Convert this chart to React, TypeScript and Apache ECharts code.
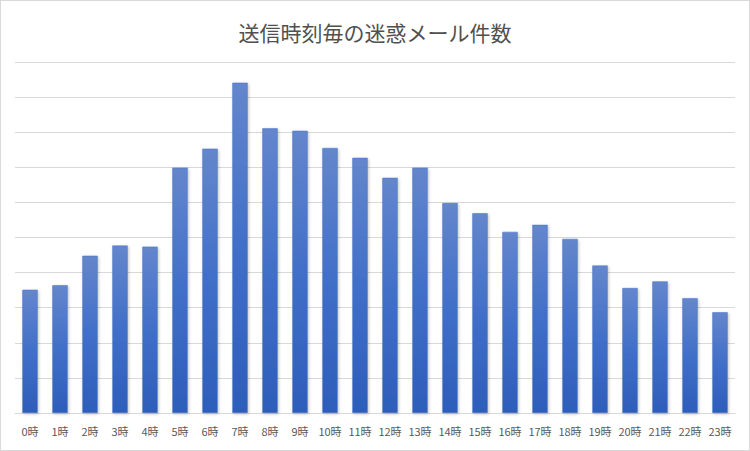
import { useEffect, useRef } from 'react'
import * as echarts from 'echarts'

// ── Data (values in gridline units) ──────────────────────────────────────────

const hours = [
  '0時', '1時', '2時', '3時', '4時', '5時', '6時', '7時', '8時', '9時', '10時', '11時',
  '12時', '13時', '14時', '15時', '16時', '17時', '18時', '19時', '20時', '21時', '22時', '23時',
]

const spamCounts = [
  3.51, 3.64, 4.48, 4.77, 4.74, 6.99, 7.53, 9.41, 8.11, 8.04, 7.55, 7.27,
  6.70, 6.99, 5.98, 5.69, 5.16, 5.36, 4.96, 4.2, 3.56, 3.75, 3.27, 2.87,
]

const yMax = 10
const yStep = 1

const FONT = '"Noto Sans CJK JP", "Noto Sans", sans-serif'
const TEXT = '#595959'

export default function App() {
  const ref = useRef<HTMLDivElement>(null)

  useEffect(() => {
    document.body.style.margin = '0'
    if (!ref.current) return
    const chart = echarts.init(ref.current, null, { renderer: 'svg' })
    chart.setOption({
      animation: false,
      backgroundColor: '#ffffff',
      title: {
        text: '送信時刻毎の迷惑メール件数',
        left: 'center',
        top: 15,
        textStyle: { fontFamily: FONT, fontSize: 21, fontWeight: 'normal', color: '#505050' },
      },
      grid: { left: 14, right: 14, top: 61, bottom: 37, containLabel: false },
      xAxis: {
        type: 'category',
        data: hours,
        axisLine: { show: true, lineStyle: { color: '#d9d9d9', width: 1 } },
        axisTick: { show: false },
        axisLabel: { fontFamily: FONT, fontSize: 11, color: TEXT, margin: 12, interval: 0 },
      },
      yAxis: {
        type: 'value',
        min: 0,
        max: yMax,
        interval: yStep,
        axisLabel: { show: false },
        axisLine: { show: false },
        axisTick: { show: false },
        splitLine: { lineStyle: { color: '#d9d9d9', width: 1 } },
      },
      series: [
        {
          type: 'bar',
          data: spamCounts,
          barWidth: '51%',
          itemStyle: {
            color: new echarts.graphic.LinearGradient(0, 0, 0, 1, [
              { offset: 0, color: '#6486cc' },
              { offset: 0.5, color: '#416fc8' },
              { offset: 1, color: '#2d5db9' },
            ]),
            borderColor: '#4472c4',
            borderWidth: 0.5,
            shadowColor: 'rgba(0,0,0,0.25)',
            shadowBlur: 3,
            shadowOffsetX: 1,
            shadowOffsetY: 1,
          },
        },
      ],
    })
    return () => chart.dispose()
  }, [])

  return (
    <div
      style={{
        position: 'absolute',
        left: 0,
        top: 0,
        width: 748,
        height: 449,
        border: '1px solid #d9d9d9',
      }}
    >
      <div ref={ref} style={{ width: 748, height: 449 }} />
    </div>
  )
}
